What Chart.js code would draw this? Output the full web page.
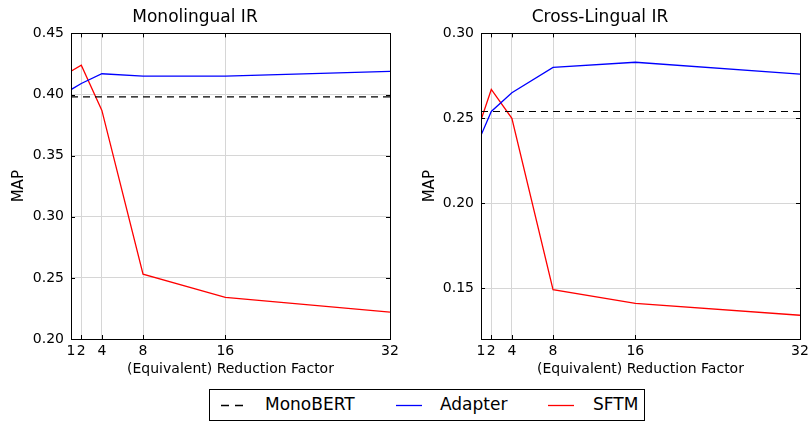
<!DOCTYPE html>
<html>
<head>
<meta charset="utf-8">
<script src="https://cdn.jsdelivr.net/npm/chart.js@4.4.1/dist/chart.umd.min.js"></script>
<style>
  body { margin: 0; background: #fff; font-family: "DejaVu Sans", sans-serif; }
  #wrap { position: relative; width: 808px; height: 421px; overflow: hidden; }
  #left { position: absolute; left: 0; top: 0; }
  #right { position: absolute; left: 400px; top: 0; }
  #legend { position: absolute; left: 209px; top: 389px; width: 434px; height: 30px;
            border: 1px solid #000; font-size: 17px; color: #000; }
  #legend span, #legend svg { position: absolute; }
</style>
</head>
<body>
<div id="wrap">
  <canvas id="left" width="400" height="385"></canvas>
  <canvas id="right" width="408" height="385"></canvas>
  <div id="legend">
    <svg style="left:11px;top:14px" width="23" height="3"><line x1="0" y1="1.5" x2="23" y2="1.5" stroke="#000" stroke-width="1.3" stroke-dasharray="8,6"/></svg>
    <span style="left:55px;top:4px">MonoBERT</span>
    <svg style="left:186px;top:14px" width="26" height="3"><line x1="0" y1="1.5" x2="26" y2="1.5" stroke="#0000ff" stroke-width="1.3"/></svg>
    <span style="left:230px;top:4px">Adapter</span>
    <svg style="left:338px;top:14px" width="26" height="3"><line x1="0" y1="1.5" x2="26" y2="1.5" stroke="#ff0000" stroke-width="1.3"/></svg>
    <span style="left:383px;top:4px">SFTM</span>
  </div>
</div>
<script>
  // reduction factors on the x axis
  var factors = [1, 2, 4, 8, 16, 32];

  // monolingual IR (MAP)
  var monoAdapter = [0.404, 0.409, 0.417, 0.415, 0.415, 0.419];
  var monoSftm = [0.419, 0.424, 0.387, 0.253, 0.234, 0.222];
  var monoBert = [0.398, 0.398];
  var monoTicks = [0.20, 0.25, 0.30, 0.35, 0.40, 0.45];

  // cross-lingual IR (MAP)
  var crossAdapter = [0.240, 0.254, 0.265, 0.280, 0.283, 0.276];
  var crossSftm = [0.249, 0.267, 0.250, 0.149, 0.141, 0.134];
  var crossBert = [0.254, 0.254];
  var crossTicks = [0.15, 0.20, 0.25, 0.30];

  var FONT = '"DejaVu Sans", sans-serif';
  Chart.defaults.font.family = FONT;
  Chart.defaults.color = '#000';

  function pts (ys) {
    return ys.map(function (y, i) { return { x: factors[i], y: y } });
  }
  function baseline (ys) {
    return [{ x: factors[0], y: ys[0] }, { x: factors[factors.length - 1], y: ys[1] }];
  }

  // black frame with matplotlib-style inward ticks
  var framePlugin = {
    id: 'frame',
    afterDatasetsDraw: function (chart) {
      var ctx = chart.ctx, a = chart.chartArea, len = 4;
      var xs = chart.scales.x, ys = chart.scales.y;
      ctx.save();
      ctx.strokeStyle = '#000';
      ctx.lineWidth = 1;
      ctx.beginPath();
      xs.ticks.forEach(function (t) {
        var px = Math.round(xs.getPixelForValue(t.value)) + 0.5;
        ctx.moveTo(px, a.bottom); ctx.lineTo(px, a.bottom - len);
        ctx.moveTo(px, a.top); ctx.lineTo(px, a.top + len);
      });
      ys.ticks.forEach(function (t) {
        var py = Math.round(ys.getPixelForValue(t.value)) + 0.5;
        ctx.moveTo(a.left, py); ctx.lineTo(a.left + len, py);
        ctx.moveTo(a.right, py); ctx.lineTo(a.right - len, py);
      });
      ctx.stroke();
      ctx.strokeRect(Math.round(a.left) + 0.5, Math.round(a.top) + 0.5,
                     Math.round(a.right - a.left), Math.round(a.bottom - a.top));
      ctx.restore();
    }
  };

  function makeChart (id, title, adapter, sftm, bert, yTicks, yMin, yMax, yWidth, titlePad, padRight) {
    return new Chart(document.getElementById(id).getContext('2d'), {
      type: 'line',
      data: {
        datasets: [
          { label: 'MonoBERT', data: baseline(bert), borderColor: '#000', borderWidth: 1.2, borderDash: [7, 5] },
          { label: 'Adapter', data: pts(adapter), borderColor: '#0000ff', borderWidth: 1.3 },
          { label: 'SFTM', data: pts(sftm), borderColor: '#ff0000', borderWidth: 1.3 }
        ]
      },
      options: {
        responsive: false,
        animation: false,
        layout: { padding: { left: 0, right: padRight, top: 0, bottom: 0 } },
        elements: { point: { radius: 0 }, line: { tension: 0 } },
        plugins: {
          legend: { display: false },
          tooltip: { enabled: false },
          title: { display: true, text: title, font: { size: 17, weight: 'normal' }, padding: { top: 7, bottom: 6 } }
        },
        scales: {
          x: {
            type: 'linear', min: 1, max: 32,
            afterBuildTicks: function (s) { s.ticks = factors.map(function (v) { return { value: v } }) },
            afterFit: function (s) { s.height = 46; s.paddingLeft = 0; s.paddingRight = 0 },
            ticks: { autoSkip: false, maxRotation: 0, padding: 4, font: { size: 14 } },
            grid: { color: '#d6d6d6', drawTicks: false },
            border: { display: false },
            title: { display: true, text: '(Equivalent) Reduction Factor', font: { size: 14 }, padding: { top: 0, bottom: 7 } }
          },
          y: {
            min: yMin, max: yMax,
            afterBuildTicks: function (s) { s.ticks = yTicks.map(function (v) { return { value: v } }) },
            afterFit: function (s) { s.width = yWidth },
            ticks: { padding: 7, font: { size: 14 }, callback: function (v) { return v.toFixed(2) } },
            grid: { color: '#d6d6d6', drawTicks: false },
            border: { display: false },
            title: { display: true, text: 'MAP', font: { size: 15 }, padding: { top: titlePad, bottom: 0 } }
          }
        }
      },
      plugins: [framePlugin]
    });
  }

  makeChart('left', 'Monolingual IR', monoAdapter, monoSftm, monoBert, monoTicks, 0.20, 0.45, 71, 10, 10);
  makeChart('right', 'Cross-Lingual IR', crossAdapter, crossSftm, crossBert, crossTicks, 0.12, 0.30, 81, 21, 8);
</script>
</body>
</html>
